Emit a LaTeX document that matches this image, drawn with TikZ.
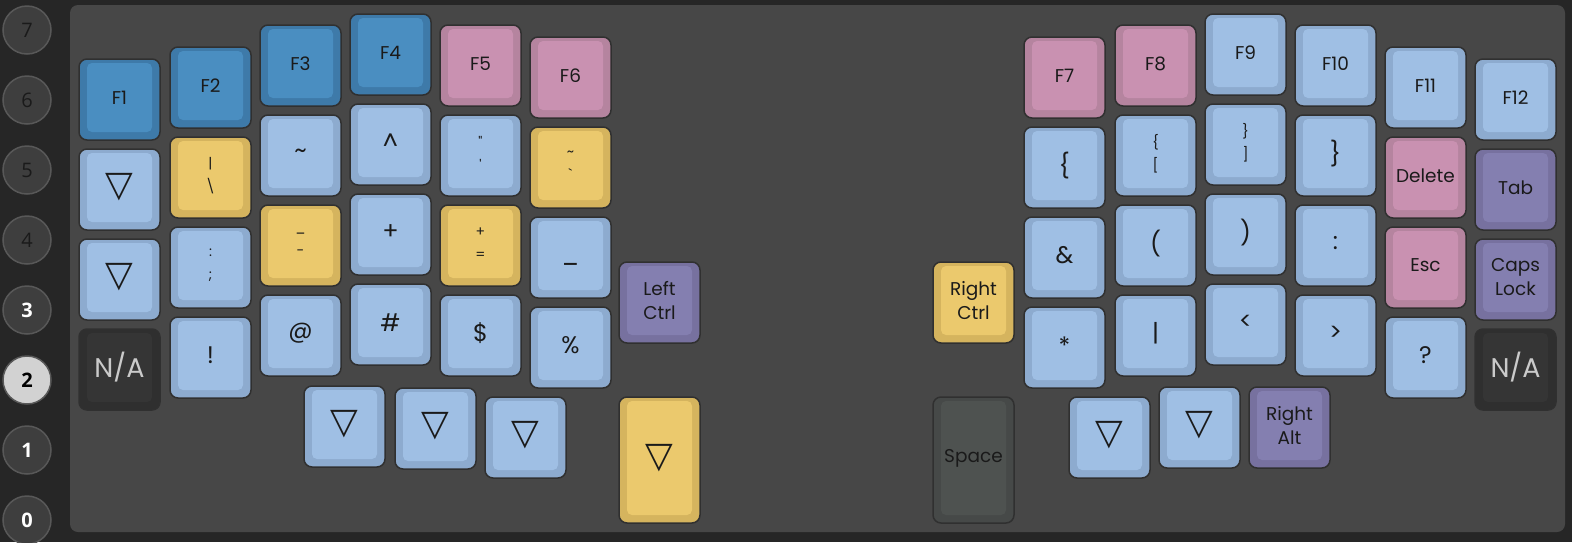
\documentclass[tikz,border=0pt]{standalone}
\usepackage{fontspec}
\newfontfamily\kf{Poppins}
\newfontfamily\sym{DejaVu Sans}
\newfontfamily\lf{Open Sans}
\definecolor{bg}{HTML}{262626}
\definecolor{panel}{HTML}{474747}
\definecolor{keyline}{HTML}{303030}
\definecolor{keytext}{HTML}{1A1A1A}
\definecolor{lbo}{HTML}{8DABCF}
\definecolor{lbi}{HTML}{9FBFE4}
\definecolor{dbo}{HTML}{3E7AA9}
\definecolor{dbi}{HTML}{4A8EC1}
\definecolor{yeo}{HTML}{D5B45E}
\definecolor{yei}{HTML}{EBC96D}
\definecolor{pko}{HTML}{B5849F}
\definecolor{pki}{HTML}{C991B1}
\definecolor{puo}{HTML}{77719F}
\definecolor{pui}{HTML}{847FB0}
\definecolor{nao}{HTML}{2F2F2F}
\definecolor{nai}{HTML}{353535}
\definecolor{natxt}{HTML}{CACACA}
\definecolor{spo}{HTML}{464948}
\definecolor{spi}{HTML}{4E5250}
\definecolor{circfill}{HTML}{3E3E3E}
\definecolor{circline}{HTML}{585858}
\definecolor{circsel}{HTML}{D2D2D2}
\tikzset{
  keyo/.style={draw=keyline, line width=1.5pt, rounded corners=8pt, anchor=north west,
    minimum width=81pt, inner sep=0pt, outer sep=0pt},
  keyi/.style={rounded corners=5pt, anchor=north west, minimum width=65pt, inner sep=0pt,
    outer sep=0pt, text=keytext, font=\kf\fontsize{18.5}{24}\selectfont, align=center},
  small/.style={font=\kf\fontsize{14}{23}\selectfont},
  symb/.style={font=\kf\fontsize{24}{28}\selectfont},
  tri/.style={font=\sym\fontsize{36}{36}\selectfont},
  natext/.style={font=\kf\fontsize{27}{30}\selectfont, text=natxt},
  layer/.style={circle, draw=circline, line width=1.5pt, fill=circfill, minimum size=48pt,
    inner sep=0pt, font=\lf\fontsize{20}{22}\selectfont},
  layerdim/.style={text=keytext},
  layerbright/.style={text=white, font=\lf\bfseries\fontsize{20}{22}\selectfont},
  layersel/.style={fill=circsel, text=black, font=\lf\bfseries\fontsize{20}{22}\selectfont},
}
% #1 height, #2 name, #3 x, #4 y (top), #5 colour prefix, #6 label style, #7 text
\newcommand\kcap[7][81]{%
  \node[keyo, fill=#5o, minimum height=#1pt] (#2) at (#3,-#4) {};
  \node[keyi, fill=#5i, minimum height=#1pt-12pt, #6] (#2t) at (#3+8,-#4-4) {#7};
}
\newcommand\tr{▽}
\begin{document}
\begin{tikzpicture}[x=1pt,y=1pt]
\useasboundingbox (0,0) rectangle (1572,-542);
\fill[bg] (0,0) rectangle (1572,-542);
\fill[panel, rounded corners=8pt] (70,-5) rectangle (1565,-532);

% layer indicators
\node[layer, layerdim] (c7) at (27,-30) {7};
\node[layer, layerdim] (c6) at (27,-100) {6};
\node[layer, layerdim] (c5) at (27,-170) {5};
\node[layer, layerdim] (c4) at (27,-240) {4};
\node[layer, layerbright] (c3) at (27,-310) {3};
\node[layer, layersel] (c2) at (27,-380) {2};
\node[layer, layerbright] (c1) at (27,-450) {1};
\node[layer, layerbright] (c0) at (27,-520) {0};

% ---------- left half ----------
\kcap{l11}{79}{59}{db}{}{F1}
\kcap{l12}{79}{149}{lb}{tri}{\tr}
\kcap{l13}{79}{239}{lb}{tri}{\tr}
\kcap{l14}{79}{329}{na}{natext}{N/A}

\kcap{l21}{170}{47}{db}{}{F2}
\kcap{l22}{170}{137}{ye}{small}{|\\\textbackslash}
\kcap{l23}{170}{227}{lb}{small}{:\\;}
\kcap{l24}{170}{317}{lb}{symb}{!}

\kcap{l31}{260}{25}{db}{}{F3}
\kcap{l32}{260}{115}{lb}{symb}{\textasciitilde}
\kcap{l33}{260}{205}{ye}{small}{\_\\-}
\kcap{l34}{260}{295}{lb}{symb}{@}

\kcap{l41}{350}{14}{db}{}{F4}
\kcap{l42}{350}{104}{lb}{symb}{\textasciicircum}
\kcap{l43}{350}{194}{lb}{symb}{+}
\kcap{l44}{350}{284}{lb}{symb}{\#}

\kcap{l51}{440}{25}{pk}{}{F5}
\kcap{l52}{440}{115}{lb}{small}{\textquotedbl\\\textquotesingle}
\kcap{l53}{440}{205}{ye}{small}{+\\=}
\kcap{l54}{440}{295}{lb}{symb}{\$}

\kcap{l61}{530}{37}{pk}{}{F6}
\kcap{l62}{530}{127}{ye}{small}{\textasciitilde\\\textasciigrave}
\kcap{l63}{530}{217}{lb}{symb}{\vphantom{A}\_}
\kcap{l64}{530}{307}{lb}{symb}{\%}

\kcap{lctrl}{619}{262}{pu}{}{Left\\Ctrl}
\kcap{lt1}{304}{386}{lb}{tri}{\tr}
\kcap{lt2}{395}{388}{lb}{tri}{\tr}
\kcap{lt3}{485}{397}{lb}{tri}{\tr}
\kcap[126]{lt4}{619}{397}{ye}{tri}{\tr}

% ---------- right half ----------
\kcap{r11}{1024}{37}{pk}{}{F7}
\kcap{r12}{1024}{127}{lb}{symb}{\{}
\kcap{r13}{1024}{217}{lb}{symb}{\&}
\kcap{r14}{1024}{307}{lb}{symb}{*}

\kcap{r21}{1115}{25}{pk}{}{F8}
\kcap{r22}{1115}{115}{lb}{small}{\{\\{[}}
\kcap{r23}{1115}{205}{lb}{symb}{(}
\kcap{r24}{1115}{295}{lb}{symb}{|}

\kcap{r31}{1205}{14}{lb}{}{F9}
\kcap{r32}{1205}{104}{lb}{small}{\}\\{]}}
\kcap{r33}{1205}{194}{lb}{symb}{)}
\kcap{r34}{1205}{284}{lb}{symb}{<}

\kcap{r41}{1295}{25}{lb}{}{F10}
\kcap{r42}{1295}{115}{lb}{symb}{\}}
\kcap{r43}{1295}{205}{lb}{symb}{:}
\kcap{r44}{1295}{295}{lb}{symb}{>}

\kcap{r51}{1385}{47}{lb}{}{F11}
\kcap{r52}{1385}{137}{pk}{}{Delete}
\kcap{r53}{1385}{227}{pk}{}{Esc}
\kcap{r54}{1385}{317}{lb}{symb}{?}

\kcap{r61}{1475}{59}{lb}{}{F12}
\kcap{r62}{1475}{149}{pu}{}{Tab}
\kcap{r63}{1475}{239}{pu}{}{Caps\\Lock}
\kcap{r64}{1475}{329}{na}{natext}{N/A}

\kcap{rctrl}{933}{262}{ye}{}{Right\\Ctrl}
\kcap[126]{rspace}{933}{397}{sp}{}{Space}
\kcap{rt1}{1069}{397}{lb}{tri}{\tr}
\kcap{rt2}{1159}{387}{lb}{tri}{\tr}
\kcap{ralt}{1249}{387}{pu}{}{Right\\Alt}
\end{tikzpicture}
\end{document}
